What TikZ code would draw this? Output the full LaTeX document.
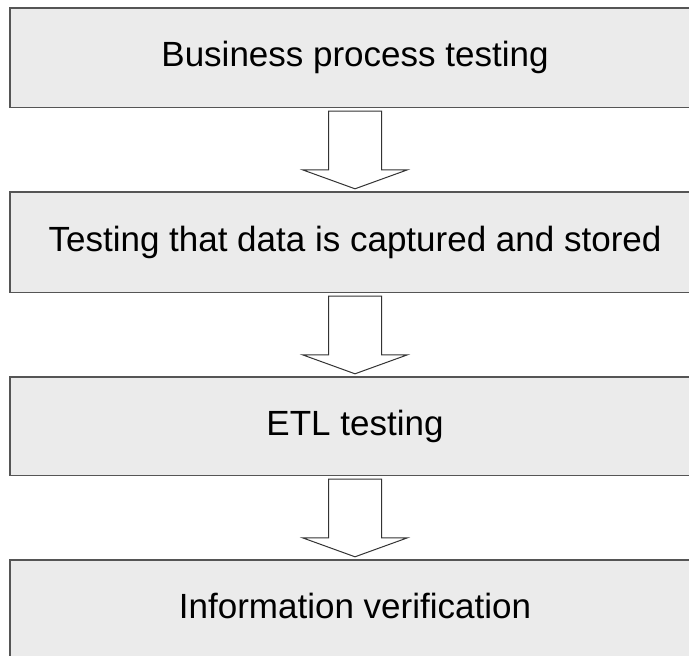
\documentclass[tikz,border=0pt]{standalone}
\usepackage{fontspec}
\setmainfont{Liberation Sans}
\usetikzlibrary{calc}
\definecolor{boxfill}{HTML}{EBEBEB}
\definecolor{boxline}{HTML}{555555}
\tikzset{
  stagebox/.style={fill=boxfill,
    minimum width=720pt, inner sep=0pt, text height=25pt, text depth=7pt,
    font=\fontsize{35}{42}\selectfont},
  frame/.style={draw=boxline, line width=1.4pt},
  blockarrow/.style={draw=black!80, line width=1pt, fill=white, line join=miter}
}
\begin{document}
\begin{tikzpicture}[x=1pt,y=1pt]
\useasboundingbox (0,0) rectangle (689,-656);
\clip (0,0) rectangle (689,-656);
\begin{scope}[every node/.append style={xshift=15pt}]
\node[stagebox, minimum height=99pt]  (b1) at (355,-57.5) {\hspace*{-30pt}Business process testing};
\node[stagebox, minimum height=100pt] (b2) at (355,-242)  {\hspace*{-30pt}Testing that data is captured and stored};
\node[stagebox, minimum height=98pt]  (b3) at (355,-426)  {\hspace*{-30pt}ETL testing};
\node[stagebox, minimum height=99pt]  (b4) at (355,-609.5) {\hspace*{-30pt}Information verification};
\end{scope}
\foreach \n in {b1,b2,b3,b4}{
  \draw[frame] (\n.north east) -- (\n.north west) -- (\n.south west) -- (\n.south east);
}
\foreach \a/\b in {b1/b2,b2/b3,b3/b4}{
  \coordinate (h) at ($(\b.north)+(-15,22)$);
  \draw[blockarrow] ($(\a.south)+(-41.5,-4)$) -- ($(\a.south)+(11.5,-4)$)
    -- ($(h)+(26.5,0)$) -- ($(h)+(52.5,0)$) -- ($(\b.north)+(-15,3)$)
    -- ($(h)+(-52.5,0)$) -- ($(h)+(-26.5,0)$) -- cycle;
}
\end{tikzpicture}
\end{document}
